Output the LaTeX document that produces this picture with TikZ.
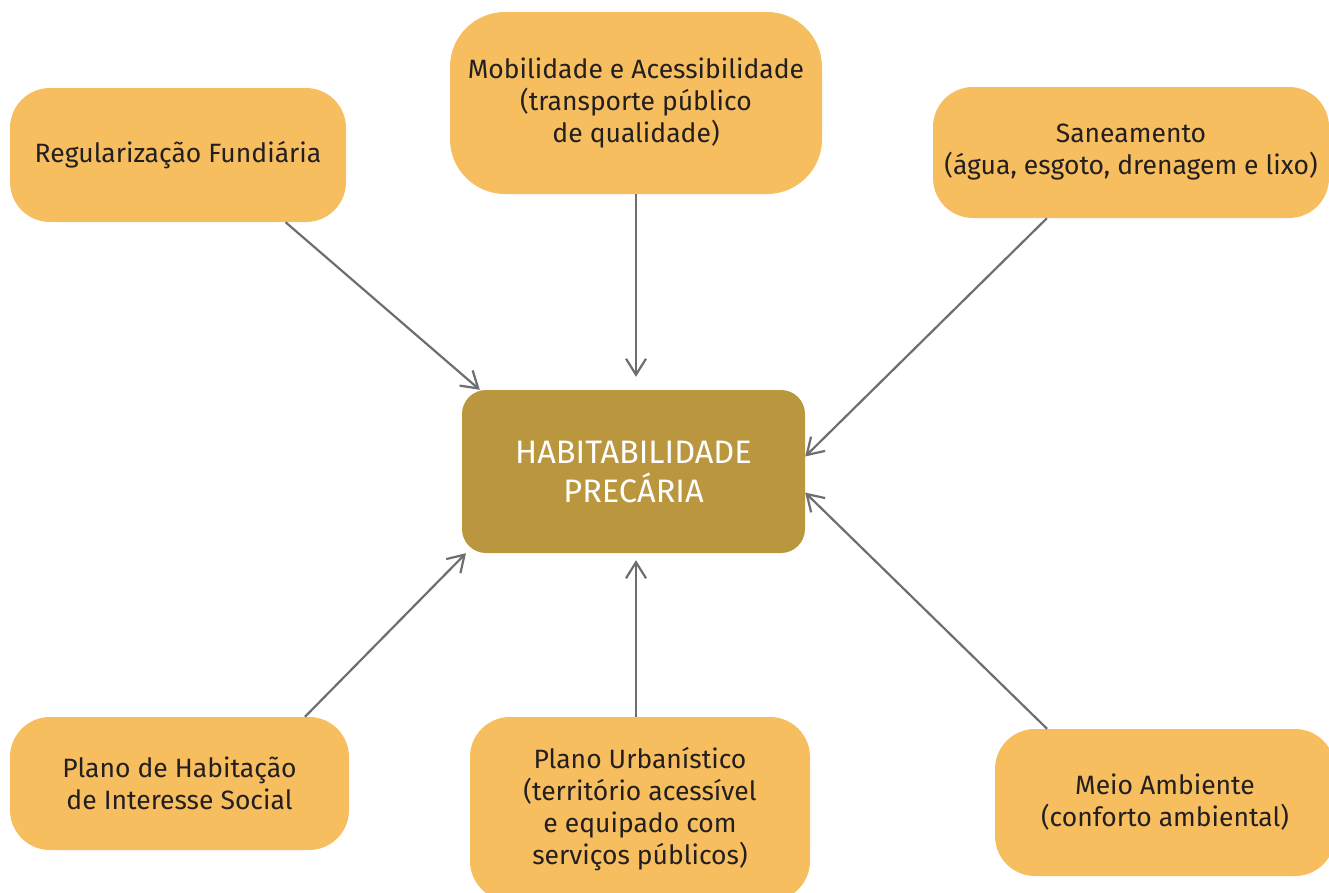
\documentclass[tikz,border=0pt]{standalone}
\usepackage{fontspec}
\setmainfont{Fira Sans}
\usetikzlibrary{arrows.meta}
\definecolor{boxorange}{HTML}{F6BE5E}
\definecolor{boxgold}{HTML}{BA963F}
\definecolor{arrgray}{HTML}{6D6E71}
\definecolor{inkdark}{HTML}{231F20}
\tikzset{
  topic/.style={fill=boxorange,rounded corners=40pt,align=center,inner sep=0pt,
    font=\fontsize{26.5}{32}\selectfont,text=inkdark},
  core/.style={fill=boxgold,rounded corners=24pt,align=center,inner sep=0pt,
    font=\fontsize{32.5}{39}\selectfont,text=white},
  arr/.style={draw=arrgray,line width=2.2pt,-{Straight Barb[length=16pt,width=20pt,line width=2.2pt]}}
}
\begin{document}
\begin{tikzpicture}[x=1pt,y=-1pt]
  \useasboundingbox (0,0) rectangle (1329,892);
  % central problem
  \node[core,minimum width=343pt,minimum height=163pt] (hab) at (633.5,471.5) {HABITABILIDADE\\PRECÁRIA};
  % causes
  \node[topic,minimum width=336pt,minimum height=134pt] (reg) at (178,155) {Regularização Fundiária};
  \node[topic,minimum width=372pt,minimum height=182pt,rounded corners=55pt] (mob) at (636,103) {Mobilidade e Acessibilidade\\(transporte público\\de qualidade)};
  \node[topic,minimum width=396pt,minimum height=131pt] (san) at (1131,152.5) {Saneamento\\(água, esgoto, drenagem e lixo)};
  \node[topic,minimum width=339pt,minimum height=133pt] (plan) at (179.5,783.5) {Plano de Habitação\\de Interesse Social};
  \node[topic,minimum width=340pt,minimum height=184pt] (urb) at (640,809) {Plano Urbanístico\\(território acessível\\e equipado com\\serviços públicos)};
  \node[topic,minimum width=340pt,minimum height=147pt] (meio) at (1165,802.5) {Meio Ambiente\\(conforto ambiental)};
  % arrows
  \draw[arr] (reg.-32) -- (hab.152);
  \draw[arr,shorten >=13pt] (mob.south) -- (mob.south |- hab.north);
  \draw[arr] (san.-142) -- (hab.5);
  \draw[arr] (meio.148) -- (hab.-7);
  \draw[arr,shorten >=7pt] (mob.south |- urb.north) -- (mob.south |- hab.south);
  \draw[arr] (plan.28) -- (hab.206);
\end{tikzpicture}
\end{document}
